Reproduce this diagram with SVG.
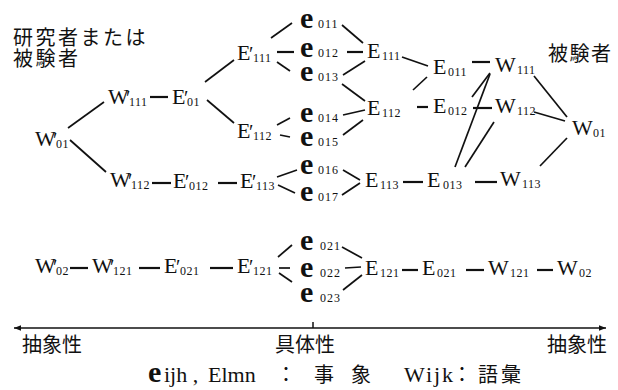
<svg xmlns="http://www.w3.org/2000/svg" width="618" height="390" viewBox="0 0 618 390">
<style>
.n{font-family:"Liberation Serif","DejaVu Serif",serif;font-size:22px;fill:#111}
.s{font-size:12px;letter-spacing:0.5px}
.p{font-size:20px}
.e{font-family:"Liberation Serif","DejaVu Serif",serif;font-weight:bold;font-size:30px;fill:#111}
.es{font-family:"Liberation Serif","DejaVu Serif",serif;font-size:12px;letter-spacing:1px;fill:#111}
.j{font-family:"Noto Sans CJK JP",serif;font-size:20px;fill:#111}
.c line{stroke:#111;stroke-width:1.7}
.c line.d{stroke-width:2.2}
.ax{stroke:#111;stroke-width:1.5;fill:none}
</style>
<defs>
<marker id="ah" viewBox="0 0 10 10" refX="10" refY="5" markerWidth="9" markerHeight="7" orient="auto-start-reverse" markerUnits="userSpaceOnUse">
<path d="M0,1 L10,5 L0,9 Z" fill="#111"/>
</marker>
</defs>
<rect width="618" height="390" fill="#fff"/>

<g id="label-left"><text class="j" x="13" y="45" letter-spacing="2.5">研究者または</text><text class="j" x="13" y="66" letter-spacing="2.5">被験者</text></g>
<g id="label-right"><text class="j" x="548" y="61" letter-spacing="1.5">被験者</text></g>

<g class="c" id="connectors">
<line x1="68" y1="128" x2="104" y2="102"/>
<line x1="70" y1="140" x2="106" y2="172"/>
<line class="d" x1="150" y1="97" x2="168" y2="97"/>
<line x1="205" y1="82" x2="234" y2="60"/>
<line x1="207" y1="100" x2="234" y2="123"/>
<line x1="271" y1="38" x2="292" y2="23"/>
<line class="d" x1="277" y1="52" x2="294" y2="52"/>
<line x1="277" y1="62" x2="290" y2="71"/>
<line x1="342" y1="25" x2="363" y2="43"/>
<line class="d" x1="347" y1="52" x2="363" y2="52"/>
<line x1="343" y1="75" x2="365" y2="61"/>
<line x1="342" y1="84" x2="365" y2="101"/>
<line x1="277" y1="125" x2="290" y2="118"/>
<line x1="280" y1="135" x2="290" y2="137"/>
<line x1="343" y1="115" x2="365" y2="110"/>
<line x1="343" y1="135" x2="363" y2="120"/>
<line x1="402" y1="57" x2="428" y2="66"/>
<line x1="413" y1="90" x2="427" y2="77"/>
<line class="d" x1="417" y1="107" x2="428" y2="107"/>
<line class="d" x1="472" y1="62" x2="490" y2="62"/>
<line class="d" x1="473" y1="108" x2="492" y2="108"/>
<line x1="472" y1="97" x2="490" y2="73"/>
<line x1="455" y1="167" x2="490" y2="74"/>
<line x1="465" y1="167" x2="494" y2="122"/>
<line x1="534" y1="76" x2="567" y2="117"/>
<line x1="534" y1="112" x2="565" y2="121"/>
<line x1="567" y1="138" x2="540" y2="166"/>
<line class="d" x1="152" y1="183" x2="171" y2="183"/>
<line class="d" x1="218" y1="183" x2="237" y2="183"/>
<line x1="277" y1="177" x2="297" y2="170"/>
<line x1="278" y1="185" x2="295" y2="193"/>
<line x1="343" y1="170" x2="360" y2="180"/>
<line x1="342" y1="195" x2="360" y2="183"/>
<line class="d" x1="403" y1="182" x2="423" y2="182"/>
<line class="d" x1="475" y1="182" x2="497" y2="182"/>
<line class="d" x1="70" y1="268" x2="88" y2="268"/>
<line class="d" x1="139" y1="268" x2="160" y2="268"/>
<line class="d" x1="210" y1="268" x2="233" y2="268"/>
<line x1="278" y1="257" x2="292" y2="245"/>
<line x1="279" y1="268" x2="290" y2="268"/>
<line x1="279" y1="273" x2="292" y2="282"/>
<line x1="342" y1="247" x2="362" y2="258"/>
<line x1="345" y1="268" x2="361" y2="267"/>
<line x1="343" y1="290" x2="362" y2="275"/>
<line class="d" x1="402" y1="270" x2="418" y2="270"/>
<line class="d" x1="466" y1="270" x2="484" y2="270"/>
<line class="d" x1="537" y1="270" x2="553" y2="270"/>
</g>

<g id="Wp01"><text class="n" x="35" y="146">W<tspan class="p" x="53" y="147">′</tspan><tspan class="s" x="56" y="148">01</tspan></text></g>
<g id="Wp111"><text class="n" x="108" y="104">W<tspan class="p" x="126" y="105">′</tspan><tspan class="s" x="129" y="106">111</tspan></text></g>
<g id="Wp112"><text class="n" x="110" y="187">W<tspan class="p" x="128" y="188">′</tspan><tspan class="s" x="131" y="189">112</tspan></text></g>
<g id="Ep01"><text class="n" x="172" y="104">E<tspan class="p" x="184" y="105">′</tspan><tspan class="s" x="187" y="106">01</tspan></text></g>
<g id="Ep111"><text class="n" x="237" y="60">E<tspan class="p" x="249" y="61">′</tspan><tspan class="s" x="253" y="62">111</tspan></text></g>
<g id="Ep112"><text class="n" x="237" y="138">E<tspan class="p" x="249" y="139">′</tspan><tspan class="s" x="253" y="140">112</tspan></text></g>
<g id="Ep012"><text class="n" x="173" y="188">E<tspan class="p" x="185" y="189">′</tspan><tspan class="s" x="189" y="190">012</tspan></text></g>
<g id="Ep113"><text class="n" x="240" y="188">E<tspan class="p" x="252" y="189">′</tspan><tspan class="s" x="256" y="190">113</tspan></text></g>

<g id="e011"><text class="e" x="300" y="28">e</text><text class="es" x="318" y="28">011</text></g>
<g id="e012"><text class="e" x="300" y="57">e</text><text class="es" x="318" y="57">012</text></g>
<g id="e013"><text class="e" x="300" y="81">e</text><text class="es" x="318" y="81">013</text></g>
<g id="e014"><text class="e" x="300" y="122">e</text><text class="es" x="318" y="122">014</text></g>
<g id="e015"><text class="e" x="300" y="146">e</text><text class="es" x="318" y="146">015</text></g>
<g id="e016"><text class="e" x="300" y="174">e</text><text class="es" x="318" y="174">016</text></g>
<g id="e017"><text class="e" x="300" y="201">e</text><text class="es" x="318" y="201">017</text></g>

<g id="E111"><text class="n" x="367" y="58">E<tspan class="s" x="382" y="60">111</tspan></text></g>
<g id="E112"><text class="n" x="367" y="115">E<tspan class="s" x="382" y="117">112</tspan></text></g>
<g id="E113"><text class="n" x="365" y="187">E<tspan class="s" x="380" y="189">113</tspan></text></g>
<g id="E011"><text class="n" x="433" y="74">E<tspan class="s" x="448" y="76">011</tspan></text></g>
<g id="E012"><text class="n" x="433" y="113">E<tspan class="s" x="448" y="115">012</tspan></text></g>
<g id="E013"><text class="n" x="427" y="187">E<tspan class="s" x="443" y="189" letter-spacing="2">013</tspan></text></g>
<g id="W111"><text class="n" x="495" y="72">W<tspan class="s" x="517" y="74">111</tspan></text></g>
<g id="W112"><text class="n" x="495" y="113">W<tspan class="s" x="517" y="115">112</tspan></text></g>
<g id="W113"><text class="n" x="500" y="186">W<tspan class="s" x="522" y="188">113</tspan></text></g>
<g id="W01"><text class="n" x="572" y="135">W<tspan class="s" x="593" y="137">01</tspan></text></g>

<g id="Wp02"><text class="n" x="35" y="273">W<tspan class="p" x="53" y="274">′</tspan><tspan class="s" x="56" y="275">02</tspan></text></g>
<g id="Wp121"><text class="n" x="92" y="273">W<tspan class="p" x="110" y="274">′</tspan><tspan class="s" x="113" y="275">121</tspan></text></g>
<g id="Ep021"><text class="n" x="164" y="273">E<tspan class="p" x="176" y="274">′</tspan><tspan class="s" x="180" y="275">021</tspan></text></g>
<g id="Ep121"><text class="n" x="237" y="273">E<tspan class="p" x="249" y="274">′</tspan><tspan class="s" x="253" y="275">121</tspan></text></g>
<g id="e021"><text class="e" x="300" y="250">e</text><text class="es" x="320" y="250">021</text></g>
<g id="e022"><text class="e" x="300" y="277">e</text><text class="es" x="320" y="277">022</text></g>
<g id="e023"><text class="e" x="300" y="302">e</text><text class="es" x="320" y="302">023</text></g>
<g id="E121"><text class="n" x="365" y="275">E<tspan class="s" x="380" y="277">121</tspan></text></g>
<g id="E021"><text class="n" x="422" y="275">E<tspan class="s" x="437" y="277">021</tspan></text></g>
<g id="W121"><text class="n" x="488" y="275">W<tspan class="s" x="510" y="277">121</tspan></text></g>
<g id="W02"><text class="n" x="557" y="275">W<tspan class="s" x="579" y="277">02</tspan></text></g>

<g id="axis">
<line class="ax" x1="14" y1="328" x2="606" y2="328" marker-start="url(#ah)" marker-end="url(#ah)"/>
<line class="ax" x1="313" y1="322" x2="313" y2="328"/>
<text class="j" x="22" y="352">抽象性</text>
<text class="j" x="275" y="352">具体性</text>
<text class="j" x="547" y="352">抽象性</text>
</g>

<g id="legend">
<text class="e" x="148" y="382" font-size="26">e</text>
<text class="n" x="164" y="382" font-size="19">ijh ,</text>
<text class="n" x="208" y="382" font-size="19">Elmn</text>
<text class="j" x="276" y="382" font-size="16">：</text>
<text class="j" x="314" y="382" font-size="15">事</text>
<text class="j" x="351" y="382" font-size="15">象</text>
<text class="n" x="404" y="382" font-size="19" letter-spacing="2">Wijk</text>
<text class="j" x="452" y="382" font-size="16">：</text>
<text class="j" x="478" y="382" font-size="16" letter-spacing="3">語彙</text>
</g>
</svg>
